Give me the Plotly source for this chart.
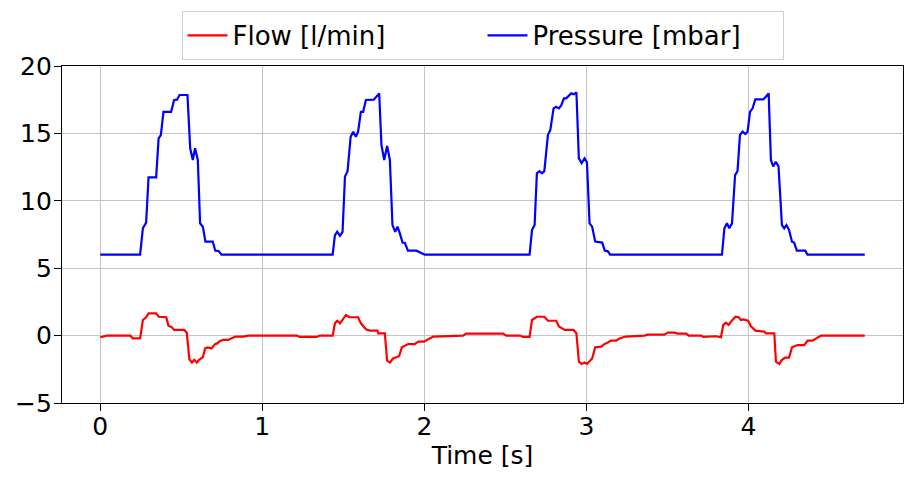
import plotly.graph_objects as go

pres_t = [0.0, 0.246, 0.263, 0.283, 0.298, 0.345, 0.36, 0.374, 0.39, 0.437, 0.456, 0.474, 0.489, 0.538,
          0.555, 0.571, 0.585, 0.602, 0.616, 0.633, 0.649, 0.694, 0.71, 0.73, 0.748,
          1.434, 1.448, 1.462, 1.479, 1.495, 1.51, 1.526, 1.545, 1.561, 1.577, 1.591, 1.608, 1.622,
          1.639, 1.688, 1.721, 1.735, 1.752, 1.77, 1.787, 1.803, 1.82, 1.834, 1.848, 1.865, 1.88,
          1.898, 1.951, 1.982, 2.002,
          2.649, 2.664, 2.68, 2.694, 2.71, 2.726, 2.74, 2.762, 2.777, 2.797, 2.813, 2.83, 2.845,
          2.861, 2.875, 2.891, 2.906, 2.922, 2.938, 2.953, 2.97, 2.988, 3.003, 3.019, 3.035, 3.054,
          3.097, 3.113, 3.132, 3.146,
          3.836, 3.851, 3.867, 3.881, 3.898, 3.917, 3.932, 3.947, 3.963, 3.98, 3.994, 4.009, 4.025,
          4.042, 4.091, 4.107, 4.124, 4.138, 4.152, 4.168, 4.185, 4.206, 4.22, 4.234, 4.25, 4.268,
          4.281, 4.298, 4.35, 4.364, 4.717]
pres_v = [6.0, 6.0, 7.96, 8.38, 11.74, 11.74, 14.63, 14.88, 16.6, 16.6, 17.48, 17.5, 17.85, 17.85,
          13.9, 13.03, 13.9, 13.03, 8.33, 8.08, 6.97, 6.97, 6.3, 6.28, 6.0,
          6.0, 7.46, 7.7, 7.4, 7.7, 11.8, 12.2, 14.75, 15.13, 14.75, 15.13, 16.6, 16.6,
          17.48, 17.5, 17.97, 14.14, 13.03, 14.07, 13.03, 8.2, 7.7, 8.08, 7.6, 6.9, 6.87,
          6.3, 6.3, 6.15, 6.0,
          6.0, 7.83, 8.2, 12.04, 12.2, 12.04, 12.2, 14.88, 15.25, 16.86, 16.98, 16.86, 17.1,
          17.6, 17.6, 17.78, 17.97, 17.9, 18.05, 13.15, 12.8, 13.15, 12.85, 8.33, 8.08, 6.97,
          6.9, 6.3, 6.25, 6.0,
          6.0, 7.96, 8.33, 7.96, 8.33, 11.91, 12.2, 14.88, 15.13, 14.95, 15.13, 16.6, 16.86,
          17.53, 17.53, 17.72, 17.97, 13.03, 12.55, 12.9, 12.55, 8.2, 7.96, 8.2, 7.83, 6.97,
          6.9, 6.3, 6.3, 6.0, 6.0]

flow_t = [0.0, 0.041, 0.185, 0.2, 0.246, 0.263, 0.283, 0.298, 0.345, 0.361, 0.407, 0.421, 0.442,
          0.456, 0.518, 0.534, 0.55, 0.566, 0.58, 0.596, 0.61, 0.633, 0.647, 0.663, 0.687, 0.708,
          0.722, 0.739, 0.76, 0.79, 0.81, 0.837, 0.882, 0.913, 1.213, 1.23, 1.335, 1.355,
          1.434, 1.448, 1.462, 1.479, 1.495, 1.516, 1.537, 1.591, 1.608, 1.639, 1.664, 1.71,
          1.715, 1.756, 1.77, 1.787, 1.807, 1.828, 1.844, 1.861, 1.879, 1.9, 1.941, 1.962,
          1.997, 2.023, 2.054, 2.238, 2.259, 2.485, 2.505, 2.59, 2.608, 2.649,
          2.664, 2.694, 2.74, 2.762, 2.813, 2.83, 2.865, 2.92, 2.938, 2.953, 2.97, 2.988,
          3.003, 3.035, 3.054, 3.091, 3.111, 3.132, 3.149, 3.183, 3.204, 3.241, 3.358, 3.378,
          3.481, 3.502, 3.543, 3.563, 3.615, 3.631, 3.707, 3.721, 3.8, 3.83,
          3.844, 3.861, 3.877, 3.892, 3.919, 3.939, 3.953, 3.967, 3.997, 4.015, 4.042, 4.097,
          4.107, 4.159, 4.169, 4.19, 4.206, 4.226, 4.25, 4.268, 4.289, 4.303, 4.344, 4.364,
          4.395, 4.416, 4.447, 4.717]
flow_v = [-0.12, 0.0, 0.0, -0.2, -0.2, 1.16, 1.36, 1.65, 1.65, 1.4, 1.36, 0.74, 0.61,
          0.42, 0.42, 0.22, -1.76, -2.0, -1.8, -2.0, -1.8, -1.6, -0.95, -0.87, -0.95, -0.63,
          -0.58, -0.4, -0.32, -0.32, -0.2, -0.07, -0.07, 0.0, 0.0, -0.1, -0.1, 0.0,
          0.0, 0.91, 1.1, 0.91, 1.16, 1.53, 1.36, 1.36, 0.91, 0.47, 0.37, 0.37,
          0.17, 0.17, -1.86, -2.0, -1.7, -1.6, -1.53, -0.87, -0.77, -0.63, -0.63, -0.45,
          -0.45, -0.27, -0.07, 0.0, 0.15, 0.15, 0.0, 0.0, -0.1, -0.1,
          1.16, 1.4, 1.4, 1.1, 1.1, 0.67, 0.42, 0.42, 0.17, -1.93, -2.1, -2.0,
          -2.1, -1.7, -0.87, -0.82, -0.63, -0.52, -0.37, -0.37, -0.22, -0.07, 0.0, 0.07,
          0.07, 0.22, 0.22, 0.15, 0.15, 0.0, 0.0, -0.1, -0.05, -0.12,
          0.79, 0.96, 0.79, 1.04, 1.4, 1.36, 1.16, 1.2, 1.1, 0.69, 0.37, 0.3,
          0.17, 0.17, -1.93, -2.1, -1.8, -1.63, -1.63, -0.87, -0.77, -0.7, -0.7, -0.37,
          -0.37, -0.2, 0.0, 0.0]

x_ticks = [0, 1, 2, 3, 4]
y_ticks = [-5, 0, 5, 10, 15, 20]

font = "DejaVu Sans"
fig = go.Figure()
fig.add_trace(go.Scatter(x=flow_t, y=flow_v, mode="lines", name="Flow [l/min]",
                         line=dict(color="#ff0000", width=2.2)))
fig.add_trace(go.Scatter(x=pres_t, y=pres_v, mode="lines", name="Pressure [mbar]",
                         line=dict(color="#0000ff", width=2.2)))

axis_common = dict(showline=True, mirror=True, linecolor="black", linewidth=1.3,
                   ticks="outside", ticklen=7, tickwidth=1.3, tickcolor="black",
                   showgrid=True, gridcolor="#c4c4c4", gridwidth=1, zeroline=False,
                   automargin=False,
                   tickfont=dict(family=font, size=25, color="black"))
fig.update_xaxes(range=[-0.236, 4.953], tickvals=x_ticks, ticklabelstandoff=-6,
                 title=dict(text="Time [s]", font=dict(family=font, size=25, color="black"), standoff=2),
                 **axis_common)
fig.update_yaxes(range=[-5, 20], tickvals=y_ticks, ticklabelstandoff=-3, **axis_common)

# page body has an 8px default margin; figure is sized/margined to compensate
fig.update_layout(
    width=907, height=478,
    margin=dict(l=54, r=12, t=58, b=83, autoexpand=False),
    plot_bgcolor="white", paper_bgcolor="white",
    font=dict(family=font, size=25, color="black"),
    legend=dict(orientation="h", x=0.5, xanchor="center", y=1.018, yanchor="bottom",
                bordercolor="#d0d0d0", borderwidth=1, bgcolor="white",
                font=dict(family=font, size=26, color="black"),
                entrywidth=245, itemwidth=40),
    showlegend=True,
)

fig.write_html("out.html")
